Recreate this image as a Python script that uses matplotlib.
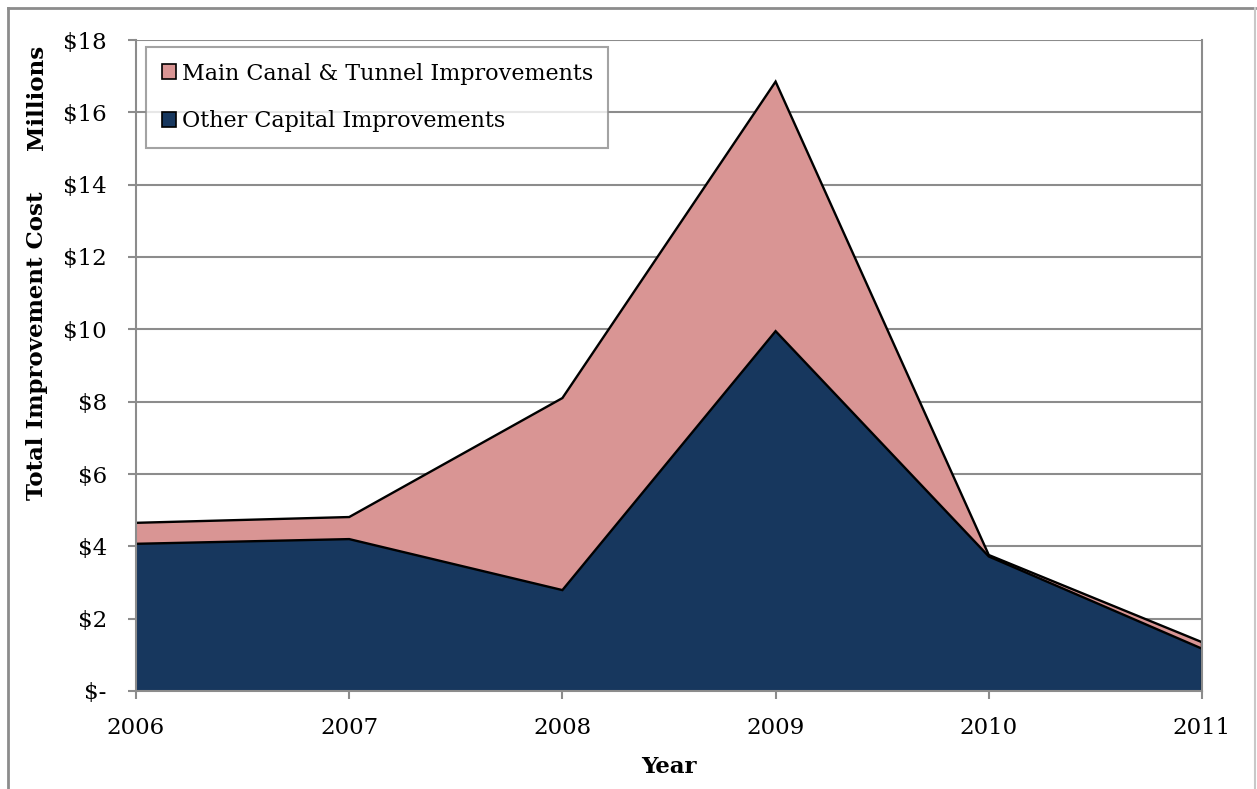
import matplotlib
matplotlib.use('Agg')
import matplotlib.pyplot as plt
from matplotlib.lines import Line2D
from matplotlib.patches import Patch

# Improvement cost by year, in millions of dollars
years = [2006, 2007, 2008, 2009, 2010, 2011]
other_capital = [4.07, 4.20, 2.79, 9.95, 3.72, 1.17]
main_canal = [0.58, 0.61, 5.31, 6.90, 0.04, 0.18]

y_ticks = [0, 2, 4, 6, 8, 10, 12, 14, 16, 18]
y_tick_labels = ['$-', '$2', '$4', '$6', '$8', '$10', '$12', '$14', '$16', '$18']
legend_labels = ['Main Canal & Tunnel Improvements', 'Other Capital Improvements']

pink = '#D99594'
navy = '#17375E'
grey = '#8C8C8C'
fs = 16.5

plt.rcParams['font.family'] = ['DejaVu Serif']

fig = plt.figure(figsize=(12.57, 7.89), dpi=100)
ax = fig.add_axes([136 / 1257, 1 - 691 / 789, (1202 - 136) / 1257, (691 - 40) / 789])

# Stacked areas, other capital at the bottom
total = [a + b for a, b in zip(other_capital, main_canal)]
ax.fill_between(years, 0, other_capital, facecolor=navy, edgecolor='none', zorder=2)
ax.fill_between(years, other_capital, total, facecolor=pink, edgecolor='none', zorder=2)
ax.plot(years, other_capital, color='black', lw=1.7, zorder=3, solid_joinstyle='miter')
ax.plot(years, total, color='black', lw=1.7, zorder=3, solid_joinstyle='miter')
ax.plot([years[-1], years[-1]], [0, total[-1]], color='black', lw=1.7, zorder=3)

ax.set_xlim(years[0], years[-1])
ax.set_ylim(0, 18)
ax.set_xticks(years)
ax.set_xticklabels([str(y) for y in years], fontsize=fs)
ax.set_yticks(y_ticks)
ax.set_yticklabels(y_tick_labels, fontsize=fs)
ax.tick_params(axis='both', direction='out', length=6, width=1.5, color=grey)
ax.tick_params(axis='y', pad=15)
ax.tick_params(axis='x', pad=13)

ax.yaxis.grid(True, color=grey, lw=1.5, zorder=0)
ax.set_axisbelow(True)
for side in ['left', 'bottom', 'right']:
    ax.spines[side].set_color(grey)
    ax.spines[side].set_linewidth(1.5)
    ax.spines[side].set_zorder(4)
ax.spines['top'].set_visible(False)

ax.set_xlabel('Year', fontsize=fs, fontweight='bold', labelpad=12)

fig.text(37 / 1257, 1 - 346 / 789, 'Total Improvement Cost', rotation=90,
         fontsize=fs, fontweight='bold', ha='center', va='center')
fig.text(37 / 1257, 1 - 97 / 789, 'Millions', rotation=90,
         fontsize=fs, fontweight='bold', ha='center', va='center')

handles = [Patch(facecolor=pink, edgecolor='black', lw=1.2),
           Patch(facecolor=navy, edgecolor='black', lw=1.2)]
leg = ax.legend(handles, legend_labels, loc='upper left',
                bbox_to_anchor=(10 / 1066, 1 - 7 / 651), fontsize=16,
                frameon=True, fancybox=False, borderaxespad=0, handlelength=0.65,
                handleheight=0.65, handletextpad=0.25, labelspacing=1.15,
                borderpad=0.7)
leg.get_frame().set_edgecolor(grey)
leg.get_frame().set_linewidth(1.5)
leg.set_zorder(5)

# Outer chart frame
fig.add_artist(Line2D([8 / 1257, 1255 / 1257], [1 - 8 / 789, 1 - 8 / 789], color=grey, lw=2))
fig.add_artist(Line2D([8 / 1257, 8 / 1257], [0, 1 - 8 / 789], color=grey, lw=2))
fig.add_artist(Line2D([1255 / 1257, 1255 / 1257], [0, 1 - 8 / 789], color='#C8C8C8', lw=1.5))

fig.savefig('out.png', dpi=100)
